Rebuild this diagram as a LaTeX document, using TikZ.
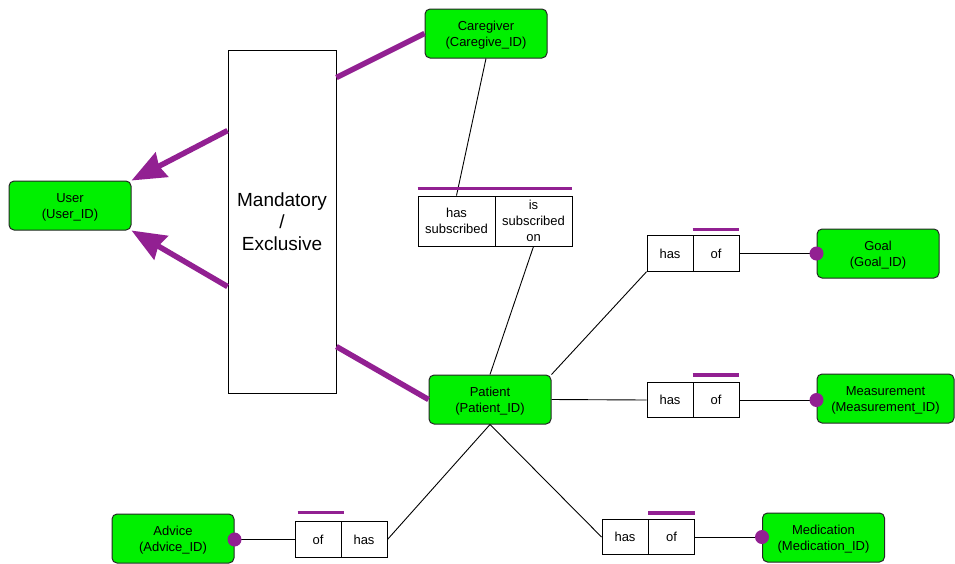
\documentclass[tikz,border=0pt]{standalone}
\usepackage{fontspec}
\setmainfont{Liberation Sans}
\usetikzlibrary{arrows.meta,calc}

\definecolor{entgreen}{RGB}{0,240,0}
\definecolor{linkpurple}{RGB}{146,32,146}

\tikzset{
  entity/.style={draw=black!85, line width=1pt, rounded corners=5pt, fill=entgreen,
    minimum width=122pt, minimum height=49pt, inner sep=0pt},
  etext/.style={align=center, inner sep=0pt, yshift=-2pt,
    font=\fontsize{13}{16}\selectfont},
  relcell/.style={draw=black, line width=0.9pt, fill=white,
    minimum width=46pt, minimum height=35.5pt, align=center, inner sep=0pt,
    font=\fontsize{13}{16}\selectfont},
  bigcell/.style={relcell, minimum width=77pt, minimum height=50pt},
  link/.style={draw=black, line width=0.9pt},
  supertype/.style={draw=linkpurple, line width=5.5pt},
  isa/.style={supertype, -{Stealth[length=34pt,width=27pt,inset=3pt]}},
  marker/.style={draw=linkpurple, line width=3.5pt},
  dot/.style={circle, fill=linkpurple, minimum size=14pt, inner sep=0pt},
}

\begin{document}
\begin{tikzpicture}[x=1pt,y=-1pt]
\useasboundingbox (0,0) rectangle (955,563);

% entities, each with its name and key centred a little low
\node[entity, label={[etext]center:{User\\(User\_ID)}}] (user) at (70,205.5) {};
\node[entity, label={[etext]center:{Caregiver\\(Caregive\_ID)}}] (caregiver) at (486,33.5) {};
\node[entity, label={[etext]center:{Patient\\(Patient\_ID)}}] (patient) at (490,399.5) {};
\node[entity, label={[etext]center:{Goal\\(Goal\_ID)}}] (goal) at (878,253.5) {};
\node[entity, minimum width=137pt, label={[etext]center:{Measurement\\(Measurement\_ID)}}] (measure) at (885.5,398.5) {};
\node[entity, label={[etext]center:{Medication\\(Medication\_ID)}}] (medic) at (823.5,537.5) {};
\node[entity, label={[etext]center:{Advice\\(Advice\_ID)}}] (advice) at (173,538.5) {};

% subtype grouping box
\node[draw=black, line width=0.9pt, fill=white, minimum width=108pt, minimum height=343pt,
      align=center, inner sep=0pt, font=\fontsize{19}{22}\selectfont]
      (mand) at (282,221.5) {Mandatory\\/\\Exclusive};

% relationship boxes
\node[bigcell] (subA) at (456.5,221) {has\\subscribed};
\node[bigcell] (subB) at (533.5,221) {is\\subscribed\\on};

\node[relcell] (goalHas) at (670,253.5) {has};
\node[relcell] (goalOf)  at (716,253.5) {of};

\node[relcell] (measHas) at (670,400) {has};
\node[relcell] (measOf)  at (716,400) {of};

\node[relcell] (medHas)  at (625,537) {has};
\node[relcell] (medOf)   at (671.5,537) {of};

\node[relcell] (advOf)   at (318,539.5) {of};
\node[relcell] (advHas)  at (364,539.5) {has};

% end points of the role lines on the entity borders
\coordinate (goalEnd) at (goalOf.east -| goal.west);
\coordinate (measEnd) at (measOf.east -| measure.west);
\coordinate (medEnd)  at (medOf.east -| medic.west);
\coordinate (advEnd)  at (advOf.west -| advice.east);

% connectors between entities and relationships
\draw[link] (caregiver.south) -- (subA.north);
\draw[link] (subB.south) -- (patient.north);
\draw[link] (patient.north east) -- (goalHas.south west);
\draw[link] (patient.east) -- (measHas.west);
\draw[link] (patient.south) -- (advHas.east);
\draw[link] (patient.south) -- (medHas.west);
\draw[link] (goalOf.east) -- (goalEnd);
\draw[link] (measOf.east) -- (measEnd);
\draw[link] (medOf.east) -- (medEnd);
\draw[link] (advOf.west) -- (advEnd);

% mandatory-participation markers
\node[dot] (goalDot) at (goalEnd) {};
\node[dot] (measDot) at (measEnd) {};
\node[dot] (medDot)  at (medEnd) {};
\node[dot] (advDot)  at (advEnd) {};

% uniqueness bars
\draw[marker] ($(subA.north west)+(0,-7)$) -- ($(subB.north east)+(0,-7)$);
\draw[marker] ($(goalOf.north west)+(0,-6)$) -- ($(goalOf.north east)+(0,-6)$);
\draw[marker] ($(measOf.north west)+(0,-7)$) -- ($(measOf.north east)+(0,-7)$);
\draw[marker] ($(medOf.north west)+(0,-6)$) -- ($(medOf.north east)+(0,-6)$);
\draw[marker] ($(advOf.north west)+(3,-9)$) -- ($(advOf.north east)+(3,-9)$);

% subtype links
\coordinate (mandCare) at ($(mand.north east)+(0,28)$);
\coordinate (mandPat)  at ($(mand.north east)+(0,297)$);
\coordinate (mandUp)   at ($(mand.north west)+(0,81)$);
\coordinate (mandDown) at ($(mand.north west)+(0,237)$);

\draw[supertype] (mandCare) -- (caregiver.west);
\draw[supertype] (mandPat) -- (patient.west);
\draw[isa] (mandUp) -- (user.north east);
\draw[isa] (mandDown) -- (user.south east);
\end{tikzpicture}
\end{document}
